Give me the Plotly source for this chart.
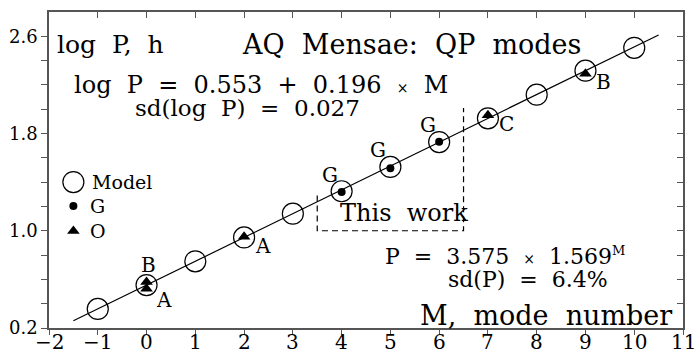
import plotly.graph_objects as go

# ---- data ----
model_m = [-1, 0, 1, 2, 3, 4, 5, 6, 7, 8, 9, 10]
model_logp = [0.357, 0.553, 0.749, 0.945, 1.141, 1.325, 1.525, 1.730, 1.925, 2.120, 2.317, 2.505]

g_m = [4, 5, 6]
g_logp = [1.319, 1.514, 1.733]

o_m = [0, 0, 2, 7, 9]
o_logp = [0.578, 0.522, 0.951, 1.950, 2.292]

fit_m = [-1.5, 10.5]
fit_logp = [0.259, 2.611]

box_m = [3.5, 3.5, 6.5, 6.5]
box_logp = [1.29, 1.0, 1.0, 2.01]

x_ticks = list(range(-2, 12))
x_labels = [str(v).replace("-", "\u2212") for v in x_ticks]
y_ticks = [0.2, 0.4, 0.6, 0.8, 1.0, 1.2, 1.4, 1.6, 1.8, 2.0, 2.2, 2.4, 2.6]
y_labels = ["0.2", "", "", "", "1.0", "", "", "", "1.8", "", "", "", "2.6"]

FONT = "DejaVu Serif"
AX = "#555555"
TIMES = '<span style="font-size:14px">×</span>'

fig = go.Figure()
fig.add_trace(go.Scatter(x=fit_m, y=fit_logp, mode="lines",
                         line=dict(color="black", width=1.2), showlegend=False))
fig.add_trace(go.Scatter(x=box_m, y=box_logp, mode="lines",
                         line=dict(color="black", width=1.2, dash="6px,4px"), showlegend=False))
fig.add_trace(go.Scatter(x=model_m, y=model_logp, mode="markers",
                         marker=dict(symbol="circle-open", size=21, color="black", line=dict(width=1.2)),
                         showlegend=False))
fig.add_trace(go.Scatter(x=g_m, y=g_logp, mode="markers",
                         marker=dict(symbol="circle", size=8, color="black"), showlegend=False))
fig.add_trace(go.Scatter(x=o_m, y=o_logp, mode="markers",
                         marker=dict(symbol="triangle-up", size=11, color="black"), showlegend=False))
# legend symbols
fig.add_trace(go.Scatter(x=[-1.5], y=[1.401], mode="markers",
                         marker=dict(symbol="circle-open", size=21, color="black", line=dict(width=1.2)),
                         showlegend=False))
fig.add_trace(go.Scatter(x=[-1.5], y=[1.204], mode="markers",
                         marker=dict(symbol="circle", size=8, color="black"), showlegend=False))
fig.add_trace(go.Scatter(x=[-1.5], y=[0.998], mode="markers",
                         marker=dict(symbol="triangle-up", size=11, color="black"), showlegend=False))
# dummy trace for mirrored axes
fig.add_trace(go.Scatter(x=[-2], y=[0.2], xaxis="x2", yaxis="y2", mode="markers",
                         marker=dict(opacity=0), showlegend=False, hoverinfo="skip"))

def txt(x, y, s, size=22, xanchor="left"):
    fig.add_annotation(x=x, y=y, text=s, showarrow=False, xanchor=xanchor, yanchor="middle",
                       font=dict(family=FONT, size=size, color="black"))

txt(-1.88, 2.53, "log  P,  h", 25)
txt(1.92, 2.53, "AQ  Mensae:  QP  modes", 27)
txt(-1.53, 2.20, "log  P  =  0.553  +  0.196  " + TIMES + "  M", 24)
txt(-0.28, 2.01, "sd(log  P)  =  0.027", 23)
txt(-1.16, 1.401, "Model", 19)
txt(-1.20, 1.204, "G", 19)
txt(-1.20, 0.998, "O", 19)
txt(3.93, 1.146, "This  work", 24)
txt(4.85, 0.790, "P  =  3.575  " + TIMES + "  1.569<sup><span style=\"font-size:13px\">M</span></sup>", 22)
txt(6.15, 0.595, "sd(P)  =  6.4%", 22)
txt(10.81, 0.307, "M,  mode  number", 27, xanchor="right")

for (x, y, s) in [(3.77, 1.459, "G"), (4.75, 1.665, "G"), (5.78, 1.870, "G"),
                  (0.05, 0.718, "B"), (0.36, 0.430, "A"), (2.39, 0.875, "A"),
                  (7.38, 1.878, "C"), (9.37, 2.224, "B")]:
    txt(x, y, s, 20, xanchor="center")

# x tick labels (placed just under the axis)
for v, lab in zip(x_ticks, x_labels):
    fig.add_annotation(x=v, y=-0.044, xref="x", yref="paper", text=lab, showarrow=False,
                       xanchor="center", yanchor="middle",
                       font=dict(family=FONT, size=20, color="black"))

fig.update_layout(
    width=694, height=356,
    margin=dict(l=49, r=11, t=12, b=28, autoexpand=False),
    paper_bgcolor="white", plot_bgcolor="white",
    showlegend=False,
    xaxis=dict(range=[-2, 11], tickvals=x_ticks, ticks="outside", ticklen=5, tickcolor=AX,
               showline=True, linecolor=AX, linewidth=1.5, showgrid=False, zeroline=False,
               automargin=False, showticklabels=False),
    yaxis=dict(range=[0.2, 2.8], tickvals=y_ticks, ticktext=y_labels, ticks="outside", ticklen=6,
               tickcolor=AX, showline=True, linecolor=AX, linewidth=1.5, showgrid=False, zeroline=False,
               automargin=False,
               tickfont=dict(family=FONT, size=18, color="black")),
    xaxis2=dict(range=[-2, 11], tickvals=x_ticks, ticks="inside", ticklen=6, tickcolor=AX,
                overlaying="x", side="top", showline=True, linecolor=AX, linewidth=1.5,
                showticklabels=False, showgrid=False, zeroline=False, automargin=False),
    yaxis2=dict(range=[0.2, 2.8], tickvals=y_ticks, ticks="inside", ticklen=6, tickcolor=AX,
                overlaying="y", side="right", showline=True, linecolor=AX, linewidth=1.5,
                showticklabels=False, showgrid=False, zeroline=False, automargin=False),
)

fig.write_html("out.html")
